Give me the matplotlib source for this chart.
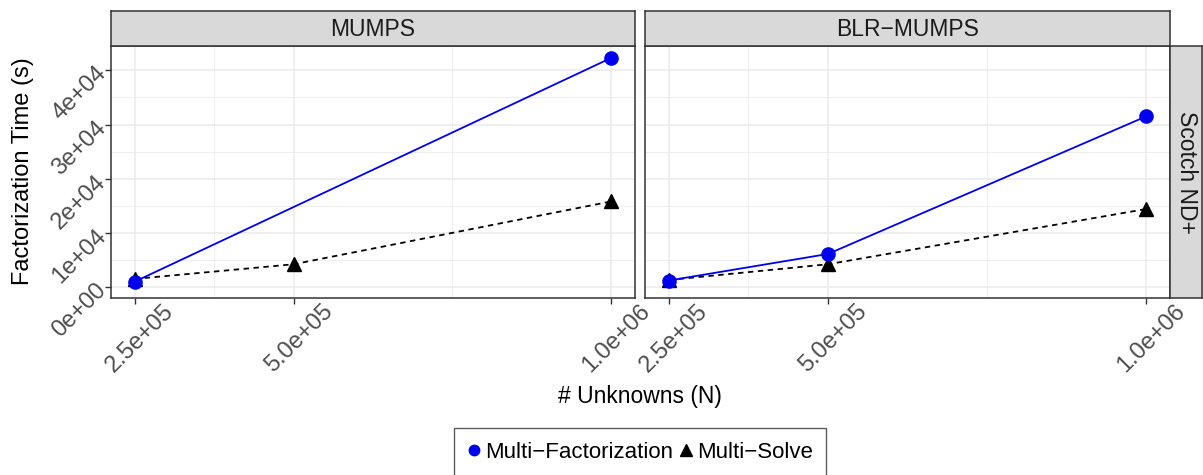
import numpy as np
import matplotlib
matplotlib.use('Agg')
import matplotlib.pyplot as plt
from matplotlib.ticker import FixedLocator
from matplotlib.transforms import ScaledTranslation

plt.rcParams['font.family'] = ['Liberation Sans', 'DejaVu Sans']

panels = ['MUMPS', 'BLR\u2212MUMPS']
row_label = 'Scotch ND+'

# Multi-Factorization (blue), Multi-Solve (black)
mf_x = [[2.5e5, 1.0e6], [2.5e5, 5.0e5, 1.0e6]]
mf_y = [[1000, 42300], [1200, 6100, 31500]]
ms_x = [[2.5e5, 5.0e5, 1.0e6], [2.5e5, 5.0e5, 1.0e6]]
ms_y = [[1500, 4200, 15800], [1300, 4200, 14400]]

x_ticks = [2.5e5, 5.0e5, 1.0e6]
x_labels = ['2.5e+05', '5.0e+05', '1.0e+06']
y_ticks = [0, 1e4, 2e4, 3e4, 4e4]
y_labels = ['0e+00', '1e+04', '2e+04', '3e+04', '4e+04']

W, H = 1203, 475
fig = plt.figure(figsize=(W / 100, H / 100), dpi=100)

def box(x0, y0, x1, y1):
    # pixel box (top-left origin) -> figure fraction rect
    return [x0 / W, 1 - y1 / H, (x1 - x0) / W, (y1 - y0) / H]

dark = '#333333'
grey_txt = '#4D4D4D'
panel_x = [(111, 635), (645, 1170)]
top, strip_top, bottom = 46, 11, 298
shift = ScaledTranslation(28 / 100, 6 / 100, fig.dpi_scale_trans)

for i, (x0, x1) in enumerate(panel_x):
    ax = fig.add_axes(box(x0, top, x1, bottom))
    ax.set_xlim(212500, 1037500)
    ax.set_ylim(-2030, 44500)
    ax.xaxis.set_major_locator(FixedLocator(x_ticks))
    ax.xaxis.set_minor_locator(FixedLocator([3.75e5, 7.5e5]))
    ax.yaxis.set_major_locator(FixedLocator(y_ticks))
    ax.yaxis.set_minor_locator(FixedLocator([5e3, 1.5e4, 2.5e4, 3.5e4]))
    ax.grid(which='major', color='#EBEBEB', lw=1.1, zorder=0)
    ax.grid(which='minor', color='#EBEBEB', lw=0.6, zorder=0)
    ax.set_axisbelow(True)
    ax.plot(ms_x[i], ms_y[i], color='black', lw=1.3, ls=(0, (3, 2.5)),
            marker='^', ms=10, zorder=3)
    ax.plot(mf_x[i], mf_y[i], color='#0000EE', lw=1.3, marker='o', ms=9.5, zorder=4)
    for s in ax.spines.values():
        s.set_color(dark)
        s.set_linewidth(1.1)
    ax.tick_params(which='major', direction='out', length=4, color=dark, width=1,
                   labelsize=17, labelcolor=grey_txt, pad=2)
    ax.tick_params(which='minor', length=0)
    ax.set_xticklabels(x_labels, rotation=45, ha='right', va='top', rotation_mode='anchor')
    for lab in ax.get_xticklabels():
        lab.set_transform(lab.get_transform() + shift)
    if i == 0:
        ax.set_yticklabels(y_labels, rotation=45, ha='right', va='center', rotation_mode='anchor')
    else:
        ax.tick_params(axis='y', labelleft=False, length=0)

    sax = fig.add_axes(box(x0, strip_top, x1, top))
    sax.set_facecolor('#D9D9D9')
    sax.set_xticks([]); sax.set_yticks([])
    for s in sax.spines.values():
        s.set_color(dark); s.set_linewidth(1.1)
    sax.text(0.5, 0.48, panels[i], ha='center', va='center', fontsize=16.5, color='#1A1A1A',
             transform=sax.transAxes)

rax = fig.add_axes(box(1170, top, 1202, bottom))
rax.set_facecolor('#D9D9D9')
rax.set_xticks([]); rax.set_yticks([])
for s in rax.spines.values():
    s.set_color(dark); s.set_linewidth(1.1)
rax.text(0.5, 0.5, row_label, ha='center', va='center', rotation=-90, fontsize=16.5,
         color='#1A1A1A', transform=rax.transAxes)

fig.text(23 / W, 1 - 171 / H, 'Factorization Time (s)', ha='center', va='center',
         rotation=90, fontsize=17)
fig.text(640 / W, 1 - 396 / H, '# Unknowns (N)', ha='center', va='center', fontsize=16.5)

h1 = plt.Line2D([], [], color='#0000EE', marker='o', ls='none', ms=7.5)
h2 = plt.Line2D([], [], color='black', marker='^', ls='none', ms=8.5)
leg = fig.legend([h1, h2], ['Multi\u2212Factorization', 'Multi\u2212Solve'], ncol=2,
                 loc='center', bbox_to_anchor=(640 / W, 1 - 452 / H), fontsize=16,
                 frameon=True, fancybox=False, handlelength=0.6, handletextpad=0.2,
                 columnspacing=0.3, borderpad=0.6)
leg.get_frame().set_edgecolor(dark)
leg.get_frame().set_linewidth(1.0)

fig.savefig('out.png', dpi=100)
